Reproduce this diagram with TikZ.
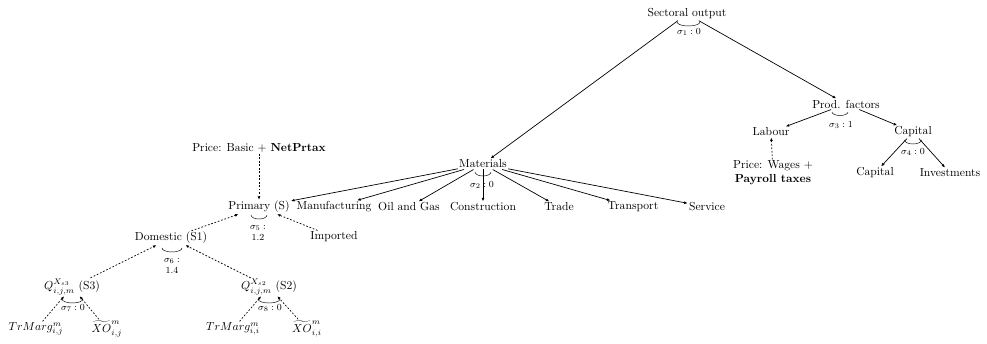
\documentclass[tikz,border=0pt]{standalone}
\usepackage{amsmath}
\usetikzlibrary{arrows.meta}
\tikzset{
  lbl/.style={inner sep=1pt},
  sig/.style={font=\footnotesize, inner sep=0pt, align=center},
  nest/.style={semithick, -{Latex[length=3pt,width=2.5pt]}},
  tax/.style={nest, dash pattern=on 1.5pt off 1.5pt},
  elas/.style={thin},
}
\begin{document}
\begin{tikzpicture}[x=0.86pt,y=0.86pt]
\useasboundingbox (0,0) rectangle (987,343);
% top level
\node[lbl] (so) at (687,329) {Sectoral output};
\node[sig] (sig1) at (689,311) {$\sigma_1:0$};
\draw[elas] (677,321) arc[start angle=180,end angle=360,x radius=11.5,y radius=4];
% production factors
\node[lbl] (pf) at (846,239) {Prod. factors};
\node[sig] (sig3) at (841,218) {$\sigma_3:1$};
\draw[elas] (832,231) arc[start angle=180,end angle=360,x radius=8,y radius=3.5];
\node[lbl] (lab) at (771,211) {Labour};
\node[lbl] (capa) at (913,211) {Capital};
\node[sig] (sig4) at (913,191) {$\sigma_4:0$};
\draw[elas] (904.5,203) arc[start angle=180,end angle=360,x radius=8.5,y radius=4];
\node[lbl] (capb) at (875,170) {Capital};
\node[lbl] (inv) at (950,170) {Investments};
\node[lbl, align=center] (wage) at (773,170) {Price: Wages +\\ \textbf{Payroll taxes}};
% materials
\node[lbl] (mat) at (483,179) {Materials};
\node[sig] (sig2) at (482,158) {$\sigma_2:0$};
\draw[elas] (475,171) arc[start angle=180,end angle=360,x radius=8,y radius=4];
\node[lbl] (prim) at (259,136) {Primary (S)};
\node[lbl] (manu) at (334,136) {Manufacturing};
\node[lbl] (oil) at (409,136) {Oil and Gas};
\node[lbl] (cons) at (483,136) {Construction};
\node[lbl] (trade) at (559,136) {Trade};
\node[lbl] (trans) at (633,136) {Transport};
\node[lbl] (serv) at (707,136) {Service};
% primary inputs
\node[lbl] (pbas) at (259,195) {Price: Basic + \textbf{NetPrtax}};
\node[sig] (sig5) at (258,110) {$\sigma_5:$\\1.2};
\draw[elas] (251,128) arc[start angle=180,end angle=360,x radius=8,y radius=4];
\node[lbl] (imp) at (334,106) {Imported};
\node[lbl] (dom) at (171,105) {Domestic (S1)};
\node[sig] (sig6) at (172,77) {$\sigma_6:$\\1.4};
\draw[elas] (162,95) arc[start angle=180,end angle=360,x radius=10,y radius=4];
\node[lbl] (q3) at (72,56) {$Q^{X_{s3}}_{i,j,m}$ (S3)};
\node[sig] (sig7) at (73,35) {$\sigma_7:0$};
\draw[elas] (62,44) arc[start angle=180,end angle=360,x radius=10.5,y radius=4];
\node[lbl] (q2) at (269,56) {$Q^{X_{s2}}_{i,j,m}$ (S2)};
\node[sig] (sig8) at (270,35) {$\sigma_8:0$};
\draw[elas] (258,44) arc[start angle=180,end angle=360,x radius=11,y radius=4];
\node[lbl] (tm3) at (36,14) {$TrMarg^m_{i,j}$};
\node[lbl] (xo3) at (107,14) {$\widetilde{XO}^m_{i,j}$};
\node[lbl] (tm2) at (233,14) {$TrMarg^m_{i,i}$};
\node[lbl] (xo2) at (307,14) {$\widetilde{XO}^m_{i,i}$};
% nesting
\draw[nest] (so) -- (mat);
\draw[nest] (so) -- (pf);
\draw[nest] (pf) -- (lab);
\draw[nest] (pf) -- (capa);
\draw[nest] (capa) -- (capb);
\draw[nest] (capa) -- (inv);
\foreach \c in {prim,manu,oil,cons,trade,trans,serv}
  \draw[nest] (mat) -- (\c);
% prices and sources
\draw[tax] (wage) -- (lab);
\draw[tax] (pbas) -- (prim);
\draw[tax] (dom) -- (prim);
\draw[tax] (imp) -- (prim);
\draw[tax] (q3) -- (dom);
\draw[tax] (q2) -- (dom);
\draw[tax] (tm3) -- (q3);
\draw[tax] (xo3) -- (q3);
\draw[tax] (tm2) -- (q2);
\draw[tax] (xo2) -- (q2);
\end{tikzpicture}
\end{document}
